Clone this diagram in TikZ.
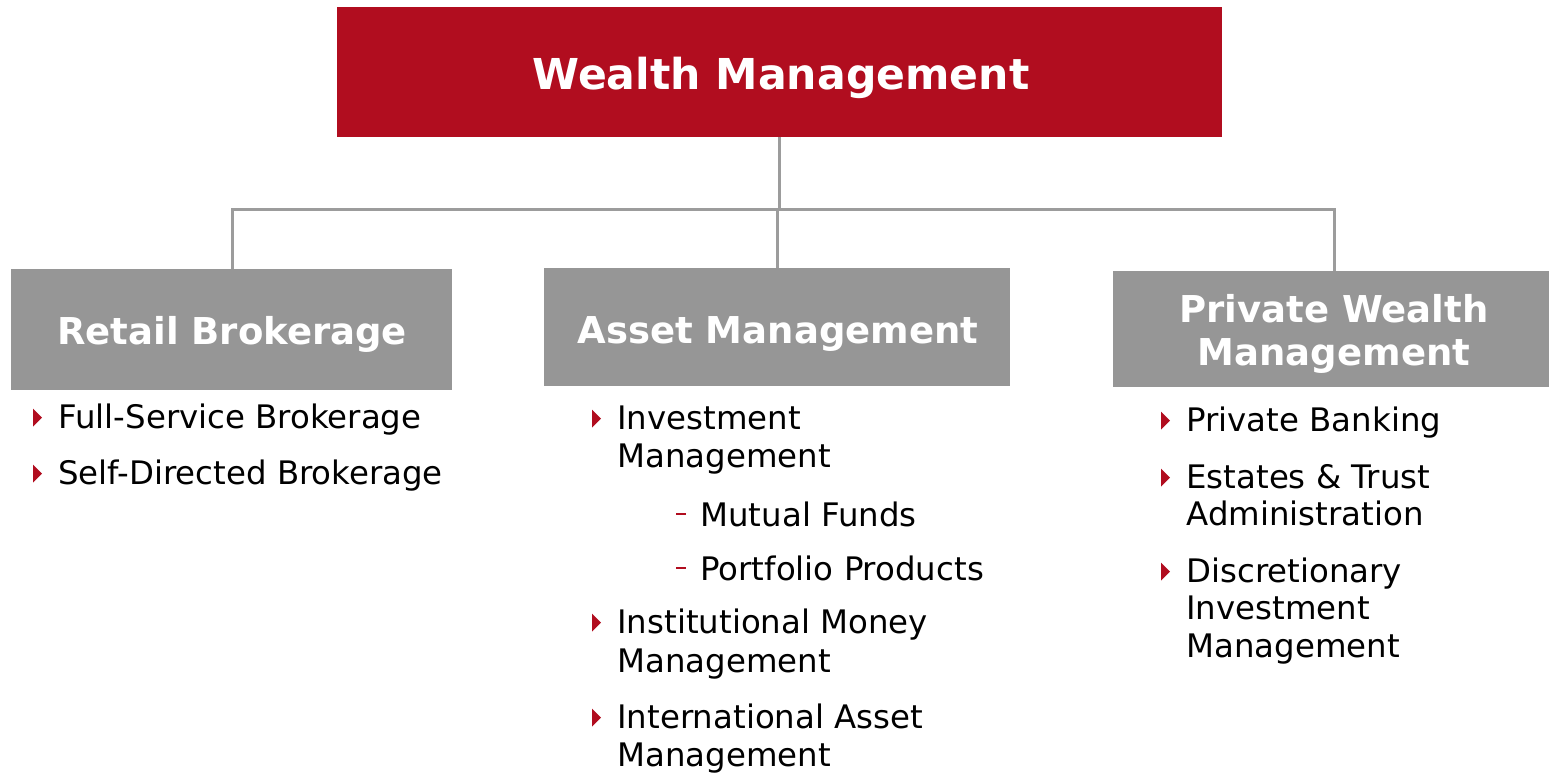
\documentclass[tikz,border=0pt]{standalone}
\usepackage{fontspec}
\setmainfont{DejaVu Sans}
\usetikzlibrary{calc}
\definecolor{wred}{HTML}{B10D1F}
\definecolor{bgray}{HTML}{969696}
\definecolor{lgray}{HTML}{9C9C9C}
\begin{document}
\begin{tikzpicture}[x=0.5pt,y=-0.5pt,
  topbox/.style={fill=wred, inner sep=0pt},
  unitbox/.style={fill=bgray, inner sep=0pt},
  toplabel/.style={anchor=base, text=white, inner sep=0pt, font=\bfseries\fontsize{21.3}{26}\selectfont},
  unitlabel/.style={anchor=base, text=white, inner sep=0pt, font=\bfseries\fontsize{18.5}{21.5}\selectfont},
  conn/.style={draw=lgray, line width=1.5pt},
  item/.style={anchor=base west, inner sep=0pt, font=\fontsize{16.2}{19}\selectfont},
  bul/.style={fill=wred},
  subdash/.style={draw=wred, line width=1.2pt}]
\useasboundingbox (0,0) rectangle (1549,773);
% boxes
\node[topbox, minimum width=442.5pt, minimum height=65pt] (wm) at (779.5,72) {};
\node[unitbox, minimum width=220.5pt, minimum height=60.5pt] (rb) at (231.5,329.5) {};
\node[unitbox, minimum width=233pt, minimum height=59pt] (am) at (777,327) {};
\node[unitbox, minimum width=218pt, minimum height=58pt] (pw) at (1331,329) {};
% box labels
\node[toplabel] (wmt) at (781,89.5) {Wealth Management};
\node[unitlabel] (rbt) at (232,344.5) {Retail Brokerage};
\node[unitlabel] (amt) at (778,343) {Asset Management};
\node[unitlabel] (pwt1) at (1334,322) {Private Wealth};
\node[unitlabel] (pwt2) at (1334,365) {Management};
% connectors
\coordinate (bus) at (778,209);
\coordinate (busl) at (232,209);
\coordinate (busr) at (1334,209);
\draw[conn] (wm.south) -- (wm.south |- bus);
\draw[conn] (rb.north -| busl) -- (busl) -- (busr) -- (pw.north -| busr);
\draw[conn] (am.north) -- (am.north |- bus);
% retail items
\node[item] (r1) at (58,428) {Full-Service Brokerage};
\node[item] (r2) at (58,484) {Self-Directed Brokerage};
% asset items
\node[item] (a1) at (617,429) {Investment};
\node[item] (a1b) at (617,467) {Management};
\node[item] (a2) at (700,526) {Mutual Funds};
\node[item] (a3) at (700,580) {Portfolio Products};
\node[item] (a4) at (617,633) {Institutional Money};
\node[item] (a4b) at (617,672) {Management};
\node[item] (a5) at (617,728) {International Asset};
\node[item] (a5b) at (617,766) {Management};
% private items
\node[item] (p1) at (1186,431) {Private Banking};
\node[item] (p2) at (1186,488) {Estates \& Trust};
\node[item] (p2b) at (1186,525) {Administration};
\node[item] (p3) at (1186,582) {Discretionary};
\node[item] (p3b) at (1186,619) {Investment};
\node[item] (p3c) at (1186,657) {Management};
% bullets
\foreach \n in {r1,r2,a1,a4,a5,p1,p2,p3}{
  \fill[bul] ($(\n.base west)+(-25,-19.5)$) -- ++(9,9) -- ++(-9,9) -- cycle;
}
\foreach \n in {a2,a3}{
  \draw[subdash] ($(\n.base west)+(-24,-12)$) -- ++(10,0);
}
\end{tikzpicture}
\end{document}
